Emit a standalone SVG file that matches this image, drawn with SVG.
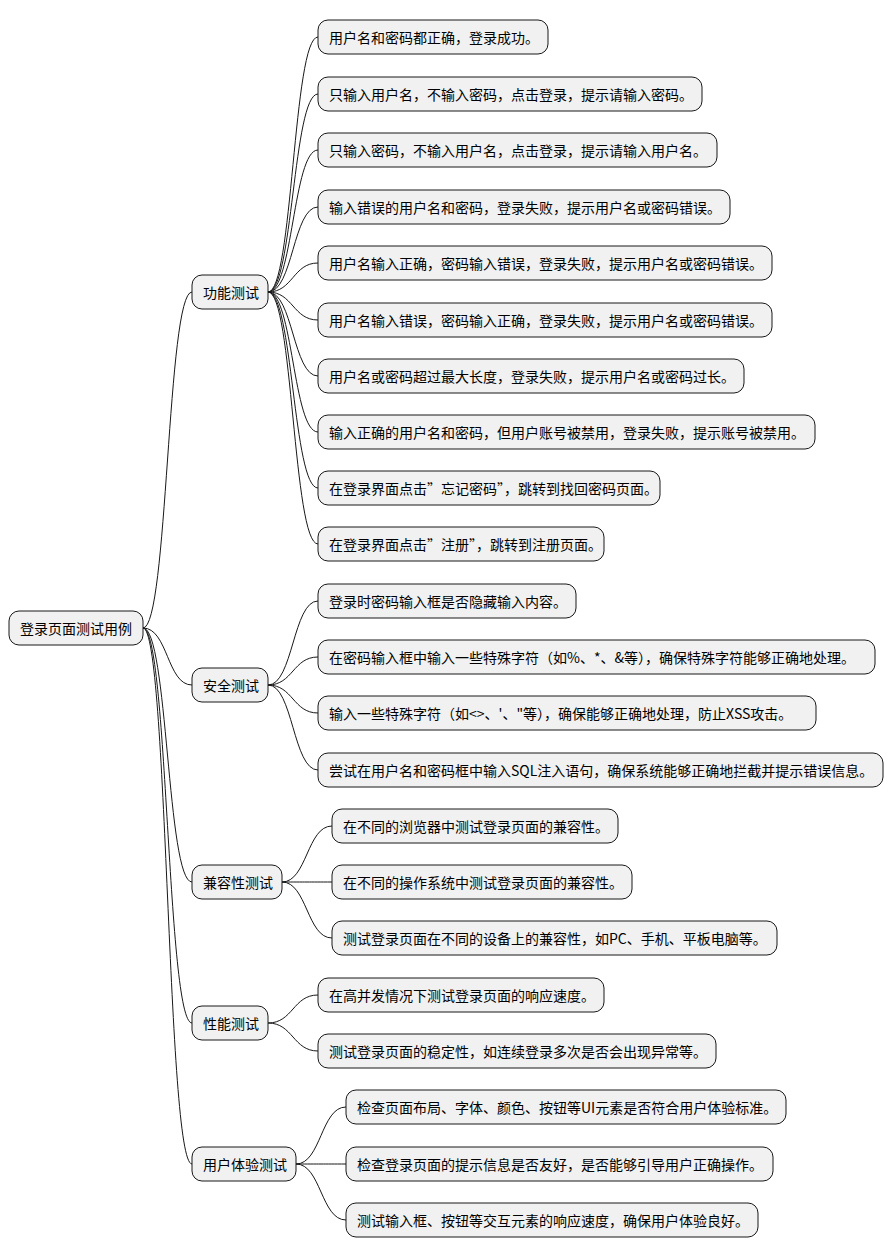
<svg xmlns="http://www.w3.org/2000/svg" width="894" height="1259" viewBox="0 0 894 1259">
<style>
.b{fill:#F1F1F1;stroke:#181818;stroke-width:1}
text{font-family:"Noto Sans CJK SC","Liberation Sans",sans-serif;font-size:14px;fill:#000;dominant-baseline:central}
.c path{fill:none;stroke:#181818;stroke-width:1}
</style>
<rect width="894" height="1259" fill="#fff"/>
<g class="c">
<path d="M143 628 C168 628 167 292 192 292"/>
<path d="M143 628 C168 628 167 685 192 685"/>
<path d="M143 628 C168 628 167 882 192 882"/>
<path d="M143 628 C168 628 167 1023 192 1023"/>
<path d="M143 628 C168 628 167 1164 192 1164"/>
<path d="M268 292 C293 292 293 37 318 37"/>
<path d="M268 292 C293 292 293 94 318 94"/>
<path d="M268 292 C293 292 293 150 318 150"/>
<path d="M268 292 C293 292 293 207 318 207"/>
<path d="M268 292 C293 292 293 263 318 263"/>
<path d="M268 292 C293 292 293 320 318 320"/>
<path d="M268 292 C293 292 293 376 318 376"/>
<path d="M268 292 C293 292 293 432 318 432"/>
<path d="M268 292 C293 292 293 488 318 488"/>
<path d="M268 292 C293 292 293 544 318 544"/>
<path d="M268 685 C293 685 293 601 318 601"/>
<path d="M268 685 C293 685 293 657 318 657"/>
<path d="M268 685 C293 685 293 713 318 713"/>
<path d="M268 685 C293 685 293 770 318 770"/>
<path d="M282 882 C307 882 307 826 332 826"/>
<path d="M282 882 C307 882 307 882 332 882"/>
<path d="M282 882 C307 882 307 938 332 938"/>
<path d="M268 1023 C293 1023 293 995 318 995"/>
<path d="M268 1023 C293 1023 293 1051 318 1051"/>
<path d="M296 1164 C321 1164 321 1107 346 1107"/>
<path d="M296 1164 C321 1164 321 1164 346 1164"/>
<path d="M296 1164 C321 1164 321 1220 346 1220"/>
</g>
<g id="root"><rect class="b" x="9" y="611" width="134" height="34" rx="10"/><text x="20" y="628">登录页面测试用例</text></g>
<g id="n1"><rect class="b" x="192" y="275" width="76" height="34" rx="10"/><text x="203" y="292">功能测试</text></g>
<g id="n2"><rect class="b" x="192" y="668" width="76" height="34" rx="10"/><text x="203" y="685">安全测试</text></g>
<g id="n3"><rect class="b" x="192" y="865" width="90" height="34" rx="10"/><text x="203" y="882">兼容性测试</text></g>
<g id="n4"><rect class="b" x="192" y="1006" width="76" height="34" rx="10"/><text x="203" y="1023">性能测试</text></g>
<g id="n5"><rect class="b" x="192" y="1147" width="104" height="34" rx="10"/><text x="203" y="1164">用户体验测试</text></g>
<g id="l1"><rect class="b" x="318" y="20" width="230" height="34" rx="10"/><text x="329" y="37">用户名和密码都正确，登录成功。</text></g>
<g id="l2"><rect class="b" x="318" y="77" width="384" height="34" rx="10"/><text x="329" y="94">只输入用户名，不输入密码，点击登录，提示请输入密码。</text></g>
<g id="l3"><rect class="b" x="318" y="133" width="399" height="34" rx="10"/><text x="329" y="150">只输入密码，不输入用户名，点击登录，提示请输入用户名。</text></g>
<g id="l4"><rect class="b" x="318" y="190" width="412" height="34" rx="10"/><text x="329" y="207">输入错误的用户名和密码，登录失败，提示用户名或密码错误。</text></g>
<g id="l5"><rect class="b" x="318" y="246" width="454" height="34" rx="10"/><text x="329" y="263">用户名输入正确，密码输入错误，登录失败，提示用户名或密码错误。</text></g>
<g id="l6"><rect class="b" x="318" y="303" width="454" height="34" rx="10"/><text x="329" y="320">用户名输入错误，密码输入正确，登录失败，提示用户名或密码错误。</text></g>
<g id="l7"><rect class="b" x="318" y="359" width="426" height="34" rx="10"/><text x="329" y="376">用户名或密码超过最大长度，登录失败，提示用户名或密码过长。</text></g>
<g id="l8"><rect class="b" x="318" y="415" width="497" height="34" rx="10"/><text x="329" y="432">输入正确的用户名和密码，但用户账号被禁用，登录失败，提示账号被禁用。</text></g>
<g id="l9"><rect class="b" x="318" y="471" width="342" height="34" rx="10"/><text x="329" y="488">在登录界面点击”忘记密码”，跳转到找回密码页面。</text></g>
<g id="l10"><rect class="b" x="318" y="527" width="286" height="34" rx="10"/><text x="329" y="544">在登录界面点击”注册”，跳转到注册页面。</text></g>
<g id="l11"><rect class="b" x="318" y="584" width="258" height="34" rx="10"/><text x="329" y="601">登录时密码输入框是否隐藏输入内容。</text></g>
<g id="l12"><rect class="b" x="318" y="640" width="557" height="34" rx="10"/><text x="329" y="657">在密码输入框中输入一些特殊字符（如%、*、&amp;等），确保特殊字符能够正确地处理。</text></g>
<g id="l13"><rect class="b" x="318" y="696" width="498" height="34" rx="10"/><text x="329" y="713">输入一些特殊字符（如&lt;&gt;、'、"等），确保能够正确地处理，防止XSS攻击。</text></g>
<g id="l14"><rect class="b" x="318" y="753" width="565" height="34" rx="10"/><text x="329" y="770">尝试在用户名和密码框中输入SQL注入语句，确保系统能够正确地拦截并提示错误信息。</text></g>
<g id="l15"><rect class="b" x="332" y="809" width="286" height="34" rx="10"/><text x="343" y="826">在不同的浏览器中测试登录页面的兼容性。</text></g>
<g id="l16"><rect class="b" x="332" y="865" width="300" height="34" rx="10"/><text x="343" y="882">在不同的操作系统中测试登录页面的兼容性。</text></g>
<g id="l17"><rect class="b" x="332" y="921" width="445" height="34" rx="10"/><text x="343" y="938">测试登录页面在不同的设备上的兼容性，如PC、手机、平板电脑等。</text></g>
<g id="l18"><rect class="b" x="318" y="978" width="286" height="34" rx="10"/><text x="329" y="995">在高并发情况下测试登录页面的响应速度。</text></g>
<g id="l19"><rect class="b" x="318" y="1034" width="398" height="34" rx="10"/><text x="329" y="1051">测试登录页面的稳定性，如连续登录多次是否会出现异常等。</text></g>
<g id="l20"><rect class="b" x="346" y="1090" width="440" height="34" rx="10"/><text x="357" y="1107">检查页面布局、字体、颜色、按钮等UI元素是否符合用户体验标准。</text></g>
<g id="l21"><rect class="b" x="346" y="1147" width="427" height="34" rx="10"/><text x="357" y="1164">检查登录页面的提示信息是否友好，是否能够引导用户正确操作。</text></g>
<g id="l22"><rect class="b" x="346" y="1203" width="412" height="34" rx="10"/><text x="357" y="1220">测试输入框、按钮等交互元素的响应速度，确保用户体验良好。</text></g>
</svg>
